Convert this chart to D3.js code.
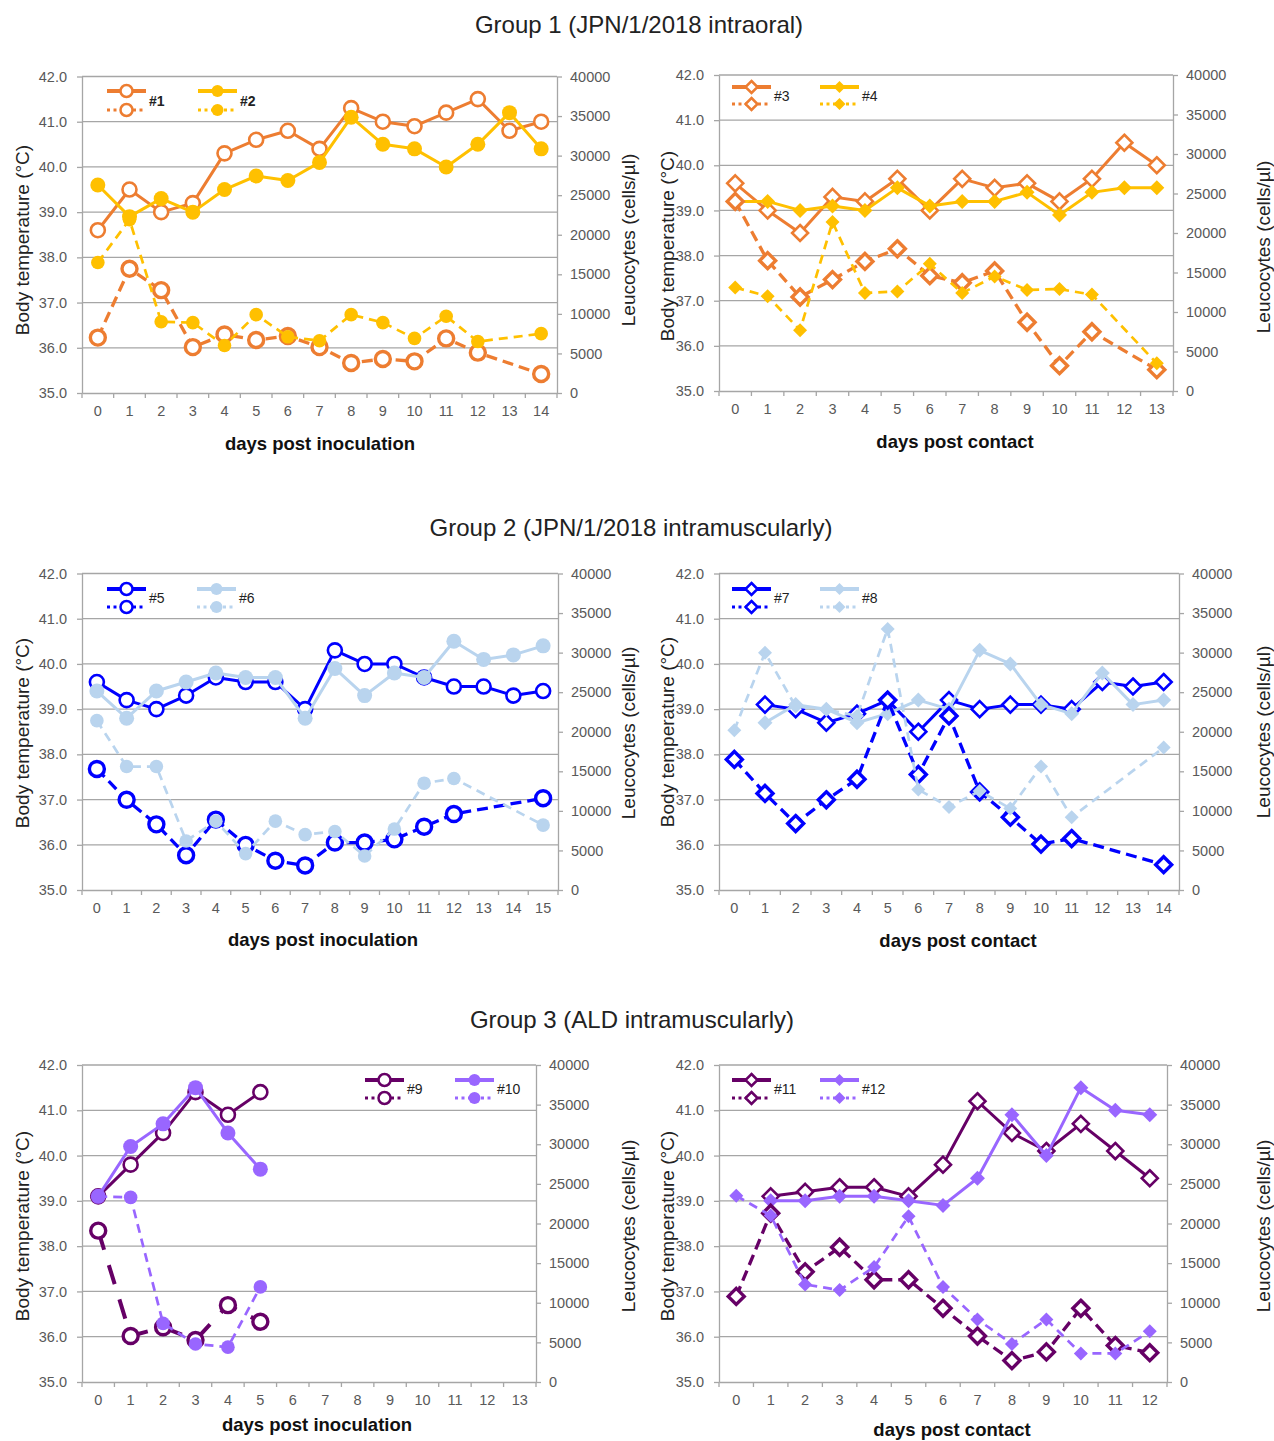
<!DOCTYPE html>
<html><head><meta charset="utf-8">
<script src="https://cdn.jsdelivr.net/npm/d3@7"></script>
<style>body{margin:0;background:#fff} svg{display:block;font-family:"Liberation Sans",Arial,sans-serif}</style>
</head><body>
<svg id="c" width="1274" height="1441"></svg>
<script>
// ---------- axis ticks ----------
const tempTicks = [35, 36, 37, 38, 39, 40, 41, 42];
const leucoTicks = [0, 5000, 10000, 15000, 20000, 25000, 30000, 35000, 40000];

// ---------- categories ----------
const days0to14 = ["0","1","2","3","4","5","6","7","8","9","10","11","12","13","14"];
const days0to13 = ["0","1","2","3","4","5","6","7","8","9","10","11","12","13"];
const days0to15 = ["0","1","2","3","4","5","6","7","8","9","10","11","12","13","14","15"];
const days0to12 = ["0","1","2","3","4","5","6","7","8","9","10","11","12"];

// ---------- Group 1 ----------
const temp1  = [38.6,39.5,39.0,39.2,40.3,40.6,40.8,40.4,41.3,41.0,40.9,41.2,41.5,40.8,41.0];
const temp2  = [39.6,38.9,39.3,39.0,39.5,39.8,39.7,40.1,41.1,40.5,40.4,40.0,40.5,41.2,40.4];
const leuco1 = [7000,15700,13000,5800,7400,6700,7200,5800,3800,4300,4000,6900,5100,null,2400];
const leuco2 = [16500,21900,9000,8900,6000,9900,7100,6600,9900,8900,6900,9700,6500,null,7500];

const temp3  = [39.6,39.0,38.5,39.3,39.2,39.7,39.0,39.7,39.5,39.6,39.2,39.7,40.5,40.0];
const temp4  = [39.2,39.2,39.0,39.1,39.0,39.5,39.1,39.2,39.2,39.4,38.9,39.4,39.5,39.5];
const leuco3 = [24000,16500,11900,14100,16400,18000,14600,13700,15200,8700,3200,7500,null,2700];
const leuco4 = [13100,12000,7700,21400,12400,12600,16100,12400,14500,12800,12900,12200,null,3500];

// ---------- Group 2 ----------
const temp5  = [39.6,39.2,39.0,39.3,39.7,39.6,39.6,39.0,40.3,40.0,40.0,39.7,39.5,39.5,39.3,39.4];
const temp6  = [39.4,38.8,39.4,39.6,39.8,39.7,39.7,38.8,39.9,39.3,39.8,39.7,40.5,40.1,40.2,40.4];
const leuco5 = [15300,11400,8300,4400,8900,5700,3700,3100,6000,6000,6400,8000,9600,null,null,11600];
const leuco6 = [21400,15600,15600,6200,8700,4600,8700,7000,7400,4300,7700,13500,14100,null,null,8200];

const temp7  = [null,39.1,39.0,38.7,38.9,39.2,38.5,39.2,39.0,39.1,39.1,39.0,39.6,39.5,39.6];
const temp8  = [null,38.7,39.1,39.0,38.7,38.9,39.2,39.0,40.3,40.0,39.1,38.9,39.8,39.1,39.2];
const leuco7 = [16500,12200,8400,11400,14000,24000,14600,22000,12400,9200,5800,6500,null,null,3200];
const leuco8 = [20200,30000,23200,22800,22000,33000,12700,10500,12500,10300,15600,9200,null,null,18000];

// ---------- Group 3 ----------
const temp9   = [39.1,39.8,40.5,41.4,40.9,41.4];
const temp10  = [39.1,40.2,40.7,41.5,40.5,39.7];
const leuco9  = [19100,5800,6900,5300,9700,7600];
const leuco10 = [23400,23300,7400,4800,4400,12000];

const temp11  = [null,39.1,39.2,39.3,39.3,39.1,39.8,41.2,40.5,40.1,40.7,40.1,39.5];
const temp12  = [null,39.0,39.0,39.1,39.1,39.0,38.9,39.5,40.9,40.0,41.5,41.0,40.9];
const leuco11 = [10800,21300,13900,17000,12900,12900,9300,5800,2700,3800,9300,4600,3700];
const leuco12 = [23500,21000,12300,11600,14500,20900,12000,7900,4800,7900,3600,3600,6400];

// ---------- styles ----------
const COL = {orange:"#ED7D31", yellow:"#FFC000", blue:"#0000FF", light:"#B9D4EE", dpurple:"#660066", purple:"#9966FF"};
const GRID = "#A6A6A6", TICKTXT = "#595959";

const svg = d3.select("#c");

function marker(sel, shape, open, color, size, sw) {
  if (shape === "circle") {
    sel.append("circle").attr("r", size)
      .attr("fill", open ? "#fff" : color)
      .attr("stroke", color).attr("stroke-width", open ? sw : 0);
  } else {
    const s = size;
    sel.append("path").attr("d", `M0,${-s}L${s},0L0,${s}L${-s},0Z`)
      .attr("fill", open ? "#fff" : color)
      .attr("stroke", color).attr("stroke-width", open ? sw : 0)
      .attr("stroke-linejoin", "miter");
  }
}

function drawPanel(cfg) {
  const g = svg.append("g");
  const x = d3.scaleBand().domain(cfg.days).range([cfg.left, cfg.right]);
  const yL = d3.scaleLinear().domain([35, 42]).range([cfg.bottom, cfg.top]);
  const yR = d3.scaleLinear().domain([0, 40000]).range([cfg.bottom, cfg.top]);

  // grid
  g.append("g").selectAll("line").data(tempTicks.slice(1)).join("line")
    .attr("x1", cfg.left).attr("x2", cfg.right)
    .attr("y1", d => yL(d)).attr("y2", d => yL(d))
    .attr("stroke", GRID).attr("stroke-width", 1.3);

  // left axis
  const la = g.append("g").attr("transform", `translate(${cfg.left},0)`)
    .call(d3.axisLeft(yL).tickValues(tempTicks).tickFormat(d3.format(".1f")).tickSize(5).tickSizeOuter(0).tickPadding(10));
  // right axis
  const ra = g.append("g").attr("transform", `translate(${cfg.right},0)`)
    .call(d3.axisRight(yR).tickValues(leucoTicks).tickFormat(d3.format("d")).tickSize(5).tickSizeOuter(0).tickPadding(8));
  // bottom axis (labels at category centres)
  const xa = g.append("g").attr("transform", `translate(0,${cfg.bottom})`)
    .call(d3.axisBottom(x).tickSize(0).tickSizeOuter(0).tickPadding(13));
  // category boundary ticks
  const bounds = cfg.days.map(d => x(d)).concat([cfg.right]);
  g.append("g").selectAll("line").data(bounds).join("line")
    .attr("x1", d => d).attr("x2", d => d)
    .attr("y1", cfg.bottom).attr("y2", cfg.bottom + 5)
    .attr("stroke", GRID).attr("stroke-width", 1.3);

  [la, ra, xa].forEach(a => {
    a.selectAll(".domain").attr("stroke", GRID).attr("stroke-width", 1.3);
    a.selectAll(".tick line").attr("stroke", GRID).attr("stroke-width", 1.3);
    a.selectAll("text").attr("fill", TICKTXT).style("font-size", "14.5px")
      .style("font-family", '"Liberation Sans",Arial,sans-serif');
  });

  // series
  cfg.series.forEach(s => {
    const y = s.axis === "L" ? yL : yR;
    const pts = s.vals.map((v, i) => ({d: cfg.days[i], v})).filter(p => p.v !== null && p.v !== undefined);
    const line = d3.line().x(p => x(p.d) + x.bandwidth() / 2).y(p => y(p.v));
    g.append("path").datum(pts).attr("d", line)
      .attr("fill", "none").attr("stroke", s.color).attr("stroke-width", s.width)
      .attr("stroke-dasharray", s.dash || null).attr("stroke-linejoin", "round");
    g.append("g").selectAll("g").data(pts).join("g")
      .attr("transform", p => `translate(${x(p.d) + x.bandwidth() / 2},${y(p.v)})`)
      .each(function () { marker(d3.select(this), s.shape, s.open, s.color, s.size, s.msw); });
  });

  // legend
  cfg.legend.forEach(L => {
    const lg = g.append("g");
    lg.append("line").attr("x1", L.x1).attr("x2", L.x2).attr("y1", L.y1).attr("y2", L.y1)
      .attr("stroke", L.color).attr("stroke-width", 4);
    marker(lg.append("g").attr("transform", `translate(${(L.x1 + L.x2) / 2},${L.y1})`), L.shape, L.open, L.color, L.size, 2.5);
    lg.append("line").attr("x1", L.x1).attr("x2", L.x2).attr("y1", L.y2).attr("y2", L.y2)
      .attr("stroke", L.color).attr("stroke-width", 3).attr("stroke-dasharray", "3,3.5");
    marker(lg.append("g").attr("transform", `translate(${(L.x1 + L.x2) / 2},${L.y2})`), L.shape, L.open, L.color, L.size, 2.5);
    lg.append("text").attr("x", L.x2 + 3).attr("y", (L.y1 + L.y2) / 2 + 5)
      .style("font-size", "14px").style("font-weight", cfg.boldLegend ? "bold" : "normal")
      .attr("fill", "#222").text(L.label);
  });

  // axis titles
  g.append("text").attr("transform", `translate(${cfg.lt[0]},${cfg.lt[1]}) rotate(-90)`)
    .attr("text-anchor", "middle").attr("dy", "0.35em").style("font-size", "19px").attr("fill", "#222")
    .text("Body temperature (°C)");
  g.append("text").attr("transform", `translate(${cfg.rt[0]},${cfg.rt[1]}) rotate(-90)`)
    .attr("text-anchor", "middle").attr("dy", "0.35em").style("font-size", "19px").attr("fill", "#222")
    .text("Leucocytes (cells/µl)");
  g.append("text").attr("x", cfg.xt[0]).attr("y", cfg.xt[1]).attr("text-anchor", "middle")
    .style("font-size", "18.5px").style("font-weight", "bold").attr("fill", "#111").text(cfg.xTitle);
}

function S(vals, axis, color, shape, open, kind) {
  if (kind === "temp") {
    return {vals, axis, color, shape, open, width: 3, dash: null,
      size: shape === "circle" ? (open ? 7 : 7.5) : (open ? 8 : 7.5), msw: 2.6};
  }
  return {vals, axis, color, shape, open, width: open ? 3.3 : 2.7, dash: open ? "11,6" : "9,6",
    size: shape === "circle" ? (open ? 7.5 : 6.8) : (open ? 8 : 7), msw: open ? 3.4 : 0};
}

function legendItems(y1, y2, xs, items) {
  return items.map((it, i) => ({x1: xs[i], x2: xs[i] + 39, y1, y2, ...it}));
}

// title texts
svg.append("text").attr("x", 639).attr("y", 33).attr("text-anchor", "middle").style("font-size", "24px").attr("fill", "#222")
  .text("Group 1 (JPN/1/2018 intraoral)");
svg.append("text").attr("x", 631).attr("y", 536).attr("text-anchor", "middle").style("font-size", "24px").attr("fill", "#222")
  .text("Group 2 (JPN/1/2018 intramuscularly)");
svg.append("text").attr("x", 632).attr("y", 1028).attr("text-anchor", "middle").style("font-size", "24px").attr("fill", "#222")
  .text("Group 3 (ALD intramuscularly)");

// Panel 1
drawPanel({left: 82, right: 557, top: 76.5, bottom: 393, days: days0to14, boldLegend: true,
  xTitle: "days post inoculation", xt: [320, 450], lt: [22, 240], rt: [628, 240],
  series: [S(temp1, "L", COL.orange, "circle", true, "temp"), S(temp2, "L", COL.yellow, "circle", false, "temp"),
           S(leuco1, "R", COL.orange, "circle", true, "leuco"), S(leuco2, "R", COL.yellow, "circle", false, "leuco")],
  legend: legendItems(91, 110, [107, 198], [
    {label: "#1", color: COL.orange, shape: "circle", open: true, size: 6},
    {label: "#2", color: COL.yellow, shape: "circle", open: false, size: 6}])});

// Panel 2
drawPanel({left: 719, right: 1173, top: 75, bottom: 391, days: days0to13,
  xTitle: "days post contact", xt: [955, 448], lt: [667, 246], rt: [1263, 247],
  series: [S(temp3, "L", COL.orange, "diamond", true, "temp"), S(temp4, "L", COL.yellow, "diamond", false, "temp"),
           S(leuco3, "R", COL.orange, "diamond", true, "leuco"), S(leuco4, "R", COL.yellow, "diamond", false, "leuco")],
  legend: legendItems(87, 104, [732, 820], [
    {label: "#3", color: COL.orange, shape: "diamond", open: true, size: 6},
    {label: "#4", color: COL.yellow, shape: "diamond", open: false, size: 6}])});

// Panel 3
drawPanel({left: 82, right: 558, top: 573.5, bottom: 890, days: days0to15,
  xTitle: "days post inoculation", xt: [323, 946], lt: [22, 733], rt: [628, 733],
  series: [S(temp5, "L", COL.blue, "circle", true, "temp"), S(temp6, "L", COL.light, "circle", false, "temp"),
           S(leuco5, "R", COL.blue, "circle", true, "leuco"), S(leuco6, "R", COL.light, "circle", false, "leuco")],
  legend: legendItems(589, 607, [107, 197], [
    {label: "#5", color: COL.blue, shape: "circle", open: true, size: 6},
    {label: "#6", color: COL.light, shape: "circle", open: false, size: 6}])});

// Panel 4
drawPanel({left: 719, right: 1179, top: 573.5, bottom: 890, days: days0to14,
  xTitle: "days post contact", xt: [958, 947], lt: [667, 732], rt: [1263, 732],
  series: [S(temp7, "L", COL.blue, "diamond", true, "temp"), S(temp8, "L", COL.light, "diamond", false, "temp"),
           S(leuco7, "R", COL.blue, "diamond", true, "leuco"), S(leuco8, "R", COL.light, "diamond", false, "leuco")],
  legend: legendItems(589, 607, [732, 820], [
    {label: "#7", color: COL.blue, shape: "diamond", open: true, size: 6},
    {label: "#8", color: COL.light, shape: "diamond", open: false, size: 6}])});

// Panel 5
const p5series = [S(temp9, "L", COL.dpurple, "circle", true, "temp"), S(temp10, "L", COL.purple, "circle", false, "temp"),
                  S(leuco9, "R", COL.dpurple, "circle", true, "leuco"), S(leuco10, "R", COL.purple, "circle", false, "leuco")];
p5series[2].dash = "20,16"; p5series[2].width = 4;
drawPanel({left: 82, right: 536, top: 1065, bottom: 1382, days: days0to13,
  xTitle: "days post inoculation", xt: [317, 1431], lt: [22, 1226], rt: [628, 1226],
  series: p5series,
  legend: legendItems(1080, 1098, [365, 455], [
    {label: "#9", color: COL.dpurple, shape: "circle", open: true, size: 6},
    {label: "#10", color: COL.purple, shape: "circle", open: false, size: 6}])});

// Panel 6
drawPanel({left: 719, right: 1167, top: 1065, bottom: 1382, days: days0to12,
  xTitle: "days post contact", xt: [952, 1436], lt: [667, 1226], rt: [1263, 1226],
  series: [S(temp11, "L", COL.dpurple, "diamond", true, "temp"), S(temp12, "L", COL.purple, "diamond", false, "temp"),
           S(leuco11, "R", COL.dpurple, "diamond", true, "leuco"), S(leuco12, "R", COL.purple, "diamond", false, "leuco")],
  legend: legendItems(1080, 1098, [732, 820], [
    {label: "#11", color: COL.dpurple, shape: "diamond", open: true, size: 6},
    {label: "#12", color: COL.purple, shape: "diamond", open: false, size: 6}])});
</script>
</body></html>
